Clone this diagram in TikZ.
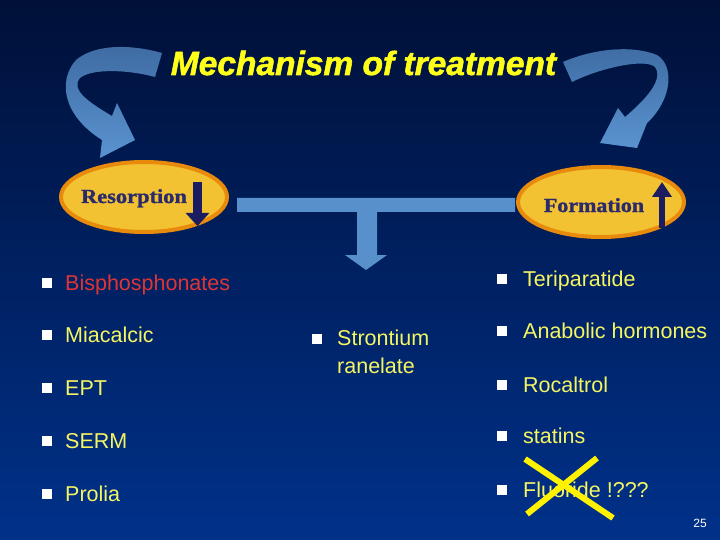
\documentclass[tikz,border=0pt]{standalone}
\usepackage{fontspec}
\setmainfont{Liberation Sans}
\newfontface\serifb{Liberation Serif Bold}[FakeBold=1.2]
\newfontface\titlefont{Liberation Sans Bold Italic}[FakeBold=1.6]
\usetikzlibrary{shapes.geometric,arrows.meta}
\definecolor{bgtop}{HTML}{001038}
\definecolor{bgbot}{HTML}{00318A}
\definecolor{arrtop}{HTML}{3E6BA2}
\definecolor{arrbot}{HTML}{5A93D0}
\definecolor{tbar}{HTML}{5890CC}
\definecolor{ovalfill}{HTML}{F2C232}
\definecolor{ovalline}{HTML}{E88B0C}
\definecolor{ovaltext}{HTML}{2B2A6B}
\definecolor{arrnavy}{HTML}{1C1C62}
\definecolor{itemyel}{HTML}{F5F562}
\definecolor{itemred}{HTML}{E03434}
\definecolor{titleyel}{HTML}{FFFF1A}
\begin{document}
\begin{tikzpicture}[x=1pt,y=-1pt,
  item/.style={anchor=base west, text=itemyel, font=\fontsize{21.5}{28}\selectfont, inner sep=0pt},
  bul/.style={fill=white, minimum size=10pt, inner sep=0pt},
  oval/.style={ellipse, fill=ovalfill, draw=ovalline, line width=4pt, minimum width=166pt, minimum height=70pt, inner sep=0pt},
  ovtext/.style={anchor=base, text=ovaltext, font=\serifb\fontsize{20}{22}\selectfont, inner sep=0pt},
  curvarrow/.style={top color=arrtop, bottom color=arrbot, draw=none},
  cross/.style={draw=yellow, line width=6pt}
]
\useasboundingbox (0,0) rectangle (720,540);
\shade[top color=bgtop, bottom color=bgbot] (0,0) rectangle (720,540);

% title
\node[anchor=base, text=titleyel, font=\titlefont\fontsize{33.5}{36}\selectfont, inner sep=0pt] (title) at (363.5,75) {Mechanism of treatment};

% curved arrows
\shade[curvarrow] (162,53) .. controls (130,44) and (95,44) .. (76,60)
  .. controls (58,80) and (62,115) .. (102,140) -- (100,158) -- (135,140) -- (117,103) -- (112,116)
  .. controls (90,103) and (70,90) .. (80,78) .. controls (92,68) and (130,70) .. (155,77) -- cycle;
\shade[curvarrow] (563,62) .. controls (590,50) and (630,44) .. (657,55)
  .. controls (675,66) and (672,100) .. (647,123) -- (637,148) -- (600,143) -- (618,108) -- (625,117)
  .. controls (645,100) and (664,80) .. (655,67) .. controls (645,58) and (600,68) .. (572,82) -- cycle;

% ovals
\node[oval] (res) at (144,197) {};
\node[ovtext] (restext) at (134,203) {\scalebox{1.12}[1]{Resorption}};
\draw[arrnavy, line width=9pt, -{Triangle[width=23pt,length=13pt]}] (197.5,182) -- (197.5,226);

\node[oval] (form) at (601,202) {};
\node[ovtext] (formtext) at (594,212) {\scalebox{1.1}[1]{Formation}};
\draw[arrnavy, line width=6pt, -{Triangle[width=19pt,length=15pt]}] (662,228) -- (662,182);

% T connector
\fill[tbar] (237,198) -- (515,198) -- (515,212) -- (377,212) -- (377,255) -- (387,255)
  -- (366,270) -- (345,255) -- (357,255) -- (357,212) -- (237,212) -- cycle;

% left list
\node[bul] (b1) at (47,283) {};
\node[item, text=itemred] (t1) at (65,290) {Bisphosphonates};
\node[bul] (b2) at (47,335) {};
\node[item] (t2) at (65,342) {Miacalcic};
\node[bul] (b3) at (47,388) {};
\node[item] (t3) at (65,395) {EPT};
\node[bul] (b4) at (47,441) {};
\node[item] (t4) at (65,448) {SERM};
\node[bul] (b5) at (47,494) {};
\node[item] (t5) at (65,501) {Prolia};

% middle
\node[bul] (m1) at (317,339) {};
\node[item] (mt1) at (337,345) {Strontium};
\node[item] (mt2) at (337,373) {ranelate};

% right list
\node[bul] (r1) at (502,279) {};
\node[item] (rt1) at (523,286) {Teriparatide};
\node[bul] (r2) at (502,331) {};
\node[item] (rt2) at (523,338) {Anabolic hormones};
\node[bul] (r3) at (502,385) {};
\node[item] (rt3) at (523,392) {Rocaltrol};
\node[bul] (r4) at (502,436) {};
\node[item] (rt4) at (523,443) {statins};
\node[bul] (r5) at (502,490) {};
\node[item] (rt5) at (523,497) {Fluoride !???};

% cross
\draw[cross] (525,459) -- (613,518);
\draw[cross] (597,458) -- (527,514);

% page number
\node[anchor=base, text=white, font=\fontsize{12}{14}\selectfont, inner sep=0pt] (pg) at (700,527) {25};
\end{tikzpicture}
\end{document}
